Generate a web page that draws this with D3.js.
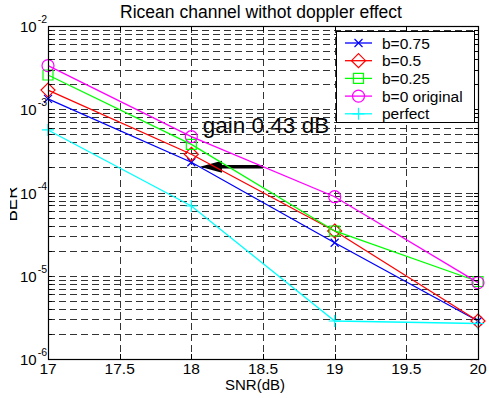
<!DOCTYPE html>
<html>
<head>
<meta charset="utf-8">
<script src="https://cdn.jsdelivr.net/npm/d3@7"></script>
<style>
  body { margin: 0; background: #fff; }
  svg { display: block; font-family: "Liberation Sans", Arial, Helvetica, sans-serif; }
</style>
</head>
<body>
<div id="chart"></div>
<script>
// values
const snr = [17, 18, 19, 20];
const berB075 = [1.33e-3, 2.31e-4, 2.49e-5, 2.86e-6];
const berB050 = [1.70e-3, 2.88e-4, 3.45e-5, 2.86e-6];
const berB025 = [2.58e-3, 3.79e-4, 3.45e-5, 8.53e-6];
const berB0 = [3.34e-3, 4.68e-4, 8.9e-5, 8.26e-6];
const berPerfect = [5.64e-4, 6.88e-5, 2.86e-6, 2.67e-6];
const seriesNames = ["b=0.75", "b=0.5", "b=0.25", "b=0 original", "perfect"];
const xTicks = [17, 17.5, 18, 18.5, 19, 19.5, 20];
const yDecades = [-6, -5, -4, -3, -2];
const titleText = "Ricean channel withot doppler effect";
const xLabel = "SNR(dB)";
const yLabel = "BER";
const gainLabel = "gain 0.43 dB";
// arrow from -> to, in data units
const gainArrow = [[18.5, 2.04e-4], [18.06, 2.04e-4]];
const gainTextPos = [18.08, 5.2e-4];

var series = [
  { name: seriesNames[0], values: berB075, color: "#0000ff", marker: "x" },
  { name: seriesNames[1], values: berB050, color: "#ff0000", marker: "diamond" },
  { name: seriesNames[2], values: berB025, color: "#00ff00", marker: "square" },
  { name: seriesNames[3], values: berB0, color: "#ff00ff", marker: "circle" },
  { name: seriesNames[4], values: berPerfect, color: "#00ffff", marker: "plus" }
];

var W = 489, H = 398;
var margin = { left: 48, right: 11, top: 26, bottom: 39 };
var width = W - margin.left - margin.right;
var height = H - margin.top - margin.bottom;

var x = d3.scaleLinear().domain([17, 20]).range([0, width]);
var y = d3.scaleLog().domain([1e-6, 1e-2]).range([height, 0]);

var svg = d3.select("#chart").append("svg")
  .attr("width", W)
  .attr("height", H);

var main = svg.append("g")
  .attr("transform", "translate(" + margin.left + "," + margin.top + ")");

// gain annotation text sits under the grid like in the original
main.append("text")
  .attr("x", x(gainTextPos[0]))
  .attr("y", y(gainTextPos[1]))
  .style("font-size", "22.5px")
  .style("fill", "#000")
  .text(gainLabel);

// minor + major log values
var yGridVals = [];
yDecades.forEach(function(e) {
  for (var m = 1; m <= 9; m++) {
    var v = m * Math.pow(10, e);
    if (v <= 1e-2 + 1e-12) yGridVals.push(v);
  }
});

var grid = main.append("g").attr("class", "grid");
grid.selectAll("line.h")
  .data(yGridVals.filter(function(v) { return v > 1e-6 * 1.01 && v < 1e-2 * 0.99; }))
  .enter().append("line")
  .attr("class", "h")
  .attr("x1", 0).attr("x2", width)
  .attr("y1", function(d) { return Math.round(y(d)) + 0.5; })
  .attr("y2", function(d) { return Math.round(y(d)) + 0.5; })
  .style("stroke", "#333")
  .style("stroke-dasharray", "7,4");

grid.selectAll("line.v")
  .data(xTicks.slice(1, -1))
  .enter().append("line")
  .attr("class", "v")
  .attr("y1", 0).attr("y2", height)
  .attr("x1", function(d) { return Math.round(x(d)) + 0.5; })
  .attr("x2", function(d) { return Math.round(x(d)) + 0.5; })
  .style("stroke", "#333")
  .style("stroke-dasharray", "7,4");

// arrow
var arrowLayer = main.append("g");
var ax0 = x(gainArrow[0][0]), ax1 = x(gainArrow[1][0]), ay = y(gainArrow[0][1]);
arrowLayer.append("line")
  .attr("x1", ax0).attr("x2", ax1 + 18)
  .attr("y1", ay).attr("y2", ay)
  .style("stroke", "#000")
  .style("stroke-width", 3.5);
arrowLayer.append("path")
  .attr("d", "M" + ax1 + "," + ay + "L" + (ax1 + 22) + "," + (ay - 6) + "L" + (ax1 + 22) + "," + (ay + 6) + "Z")
  .style("fill", "#000");

// markers
function markerPath(type) {
  switch (type) {
    case "x": return "M-4,-4L4,4M-4,4L4,-4";
    case "plus": return "M-6,0L6,0M0,-6L0,6";
    case "diamond": return "M0,-7L7,0L0,7L-7,0Z";
    case "square": return "M-5,-5L5,-5L5,5L-5,5Z";
    case "circle": return "M-6,0A6,6 0 1,0 6,0A6,6 0 1,0 -6,0Z";
  }
}

var line = d3.line()
  .x(function(d) { return x(d[0]); })
  .y(function(d) { return y(d[1]); });

var lines = main.append("g");
series.forEach(function(s) {
  var pts = snr.map(function(v, i) { return [v, s.values[i]]; });
  var g = lines.append("g");
  g.append("path")
    .attr("d", line(pts))
    .style("fill", "none")
    .style("stroke", s.color)
    .style("stroke-width", 1.3);
  g.selectAll("path.m")
    .data(pts)
    .enter().append("path")
    .attr("class", "m")
    .attr("transform", function(d) { return "translate(" + x(d[0]) + "," + y(d[1]) + ")"; })
    .attr("d", markerPath(s.marker))
    .style("fill", "none")
    .style("stroke", s.color)
    .style("stroke-width", 1.2);
});

// axes box and inner ticks
main.append("rect")
  .attr("x", 0.5).attr("y", 0.5)
  .attr("width", width).attr("height", height)
  .style("fill", "none")
  .style("stroke", "#000")
  .style("stroke-width", 1.2);

var ticks = main.append("g");
yGridVals.forEach(function(v) {
  var yy = Math.round(y(v)) + 0.5;
  var len = 4;
  ticks.append("line").attr("x1", 0).attr("x2", len).attr("y1", yy).attr("y2", yy).style("stroke", "#000");
  ticks.append("line").attr("x1", width - len).attr("x2", width).attr("y1", yy).attr("y2", yy).style("stroke", "#000");
});
xTicks.forEach(function(v) {
  var xx = Math.round(x(v)) + 0.5;
  ticks.append("line").attr("x1", xx).attr("x2", xx).attr("y1", 0).attr("y2", 5).style("stroke", "#000");
  ticks.append("line").attr("x1", xx).attr("x2", xx).attr("y1", height - 5).attr("y2", height).style("stroke", "#000");
});

// x tick labels
main.selectAll("text.xt")
  .data(xTicks)
  .enter().append("text")
  .attr("class", "xt")
  .attr("x", function(d) { return x(d); })
  .attr("y", height + 14.5)
  .attr("text-anchor", "middle")
  .style("font-size", "15.5px")
  .text(function(d) { return d; });

// y tick labels 10^e
var yt = main.selectAll("text.yt")
  .data(yDecades)
  .enter().append("text")
  .attr("class", "yt")
  .attr("x", 20 - margin.left)
  .attr("y", function(d) { return y(Math.pow(10, d)) + 6; })
  .style("font-size", "15px");
yt.append("tspan").text("10");
yt.append("tspan")
  .attr("dy", -9)
  .attr("dx", 1)
  .style("font-size", "10.5px")
  .text(function(d) { return d; });

// legend
var legend = main.append("g")
  .attr("transform", "translate(" + (336 - margin.left) + "," + (31 - margin.top) + ")");
legend.append("rect")
  .attr("x", 0.5).attr("y", 0.5)
  .attr("width", 138).attr("height", 91)
  .style("fill", "#fff")
  .style("stroke", "#000");
series.forEach(function(s, i) {
  var ly = 12 + i * 17.7;
  legend.append("line")
    .attr("x1", 9).attr("x2", 36)
    .attr("y1", ly).attr("y2", ly)
    .style("stroke", s.color)
    .style("stroke-width", 1.3);
  legend.append("path")
    .attr("transform", "translate(22.5," + ly + ")")
    .attr("d", markerPath(s.marker))
    .style("fill", "none")
    .style("stroke", s.color)
    .style("stroke-width", 1.2);
  legend.append("text")
    .attr("x", 46)
    .attr("y", ly + 5.5)
    .style("font-size", "15.5px")
    .text(s.name);
});

// title and axis labels
svg.append("text")
  .attr("x", 261)
  .attr("y", 18)
  .attr("text-anchor", "middle")
  .style("font-size", "17.5px")
  .text(titleText);

svg.append("text")
  .attr("x", 255)
  .attr("y", 390)
  .attr("text-anchor", "middle")
  .style("font-size", "15px")
  .text(xLabel);

// y label is cut at the left edge in the original figure
svg.append("clipPath").attr("id", "ylabclip")
  .append("rect").attr("x", 10).attr("y", 0).attr("width", 30).attr("height", H);
svg.append("g")
  .attr("clip-path", "url(#ylabclip)")
  .append("text")
  .attr("transform", "translate(17,204) rotate(-90)")
  .attr("text-anchor", "middle")
  .style("font-size", "17px")
  .text(yLabel);
</script>
</body>
</html>
